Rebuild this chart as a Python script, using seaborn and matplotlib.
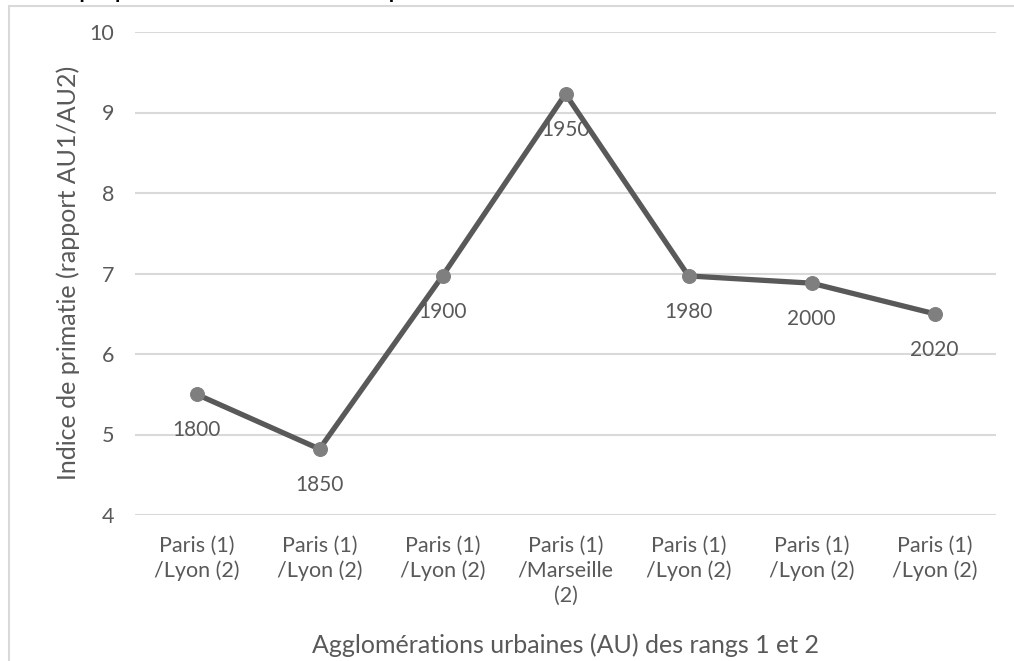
import numpy as np
import pandas as pd
import seaborn as sns
import matplotlib.pyplot as plt
from matplotlib.patches import Rectangle

sns.set_theme(style="white")
plt.rcParams['font.family'] = ['Lato', 'DejaVu Sans']

annees = ['1800', '1850', '1900', '1950', '1980', '2000', '2020']
agglos = ['Paris (1)\n/Lyon (2)', 'Paris (1)\n/Lyon (2)', 'Paris (1)\n/Lyon (2)',
          'Paris (1)\n/Marseille\n(2)', 'Paris (1)\n/Lyon (2)', 'Paris (1)\n/Lyon (2)',
          'Paris (1)\n/Lyon (2)']
indice = [5.50, 4.82, 6.97, 9.23, 6.97, 6.88, 6.50]

df = pd.DataFrame({'pos': np.arange(len(annees)), 'indice': indice, 'annee': annees})

gris = '#595959'
fig = plt.figure(figsize=(10.14, 6.61), dpi=100)
# cadre du graphique
fig.patches.append(Rectangle((9/1014, -0.1), 1.2, 1 - 6/661 + 0.1, transform=fig.transFigure,
                             fill=False, edgecolor='#d9d9d9', linewidth=1.5))
# titre coupé en haut de l'image
fig.text(0.045, 1 + 2/661, "Graphique : l'évolution de l'indice de primatie", fontsize=15,
         fontweight='bold', color='black', va='baseline')

ax = fig.add_axes([135/1014, 1 - 515/661, 861/1014, 483/661])
sns.lineplot(data=df, x='pos', y='indice', ax=ax, color=gris, linewidth=3.8,
             marker='o', markersize=10, markerfacecolor='#7f7f7f', markeredgecolor='#7f7f7f')

for _, r in df.iterrows():
    ax.annotate(r['annee'], (r['pos'], r['indice']), xytext=(0, -26), textcoords='offset points',
                ha='center', va='center', fontsize=15, color=gris)

ax.set_xlim(-0.5, 6.5)
ax.set_ylim(4, 10)
ax.set_yticks(range(4, 11))
ax.set_xticks(df['pos'])
ax.set_xticklabels(agglos, va='top', ma='center', linespacing=1.3)
ax.yaxis.grid(True, color='#d9d9d9', linewidth=1.5)
ax.set_axisbelow(True)
for s in ax.spines.values():
    s.set_visible(False)
ax.tick_params(axis='both', length=0, labelsize=15.5, labelcolor=gris)
ax.tick_params(axis='x', pad=15)
ax.tick_params(axis='y', pad=15)
ax.set_xlabel('Agglomérations urbaines (AU) des rangs 1 et 2', fontsize=18, color=gris)
ax.set_ylabel('Indice de primatie (rapport AU1/AU2)', fontsize=18, color=gris)
ax.xaxis.set_label_coords(566/1014, 1 - 645/661, transform=fig.transFigure)
ax.xaxis.label.set_va('center')
ax.yaxis.set_label_coords(68/1014, 1 - 273/661, transform=fig.transFigure)
ax.yaxis.label.set_va('center')

fig.savefig('out.png', dpi=100)
